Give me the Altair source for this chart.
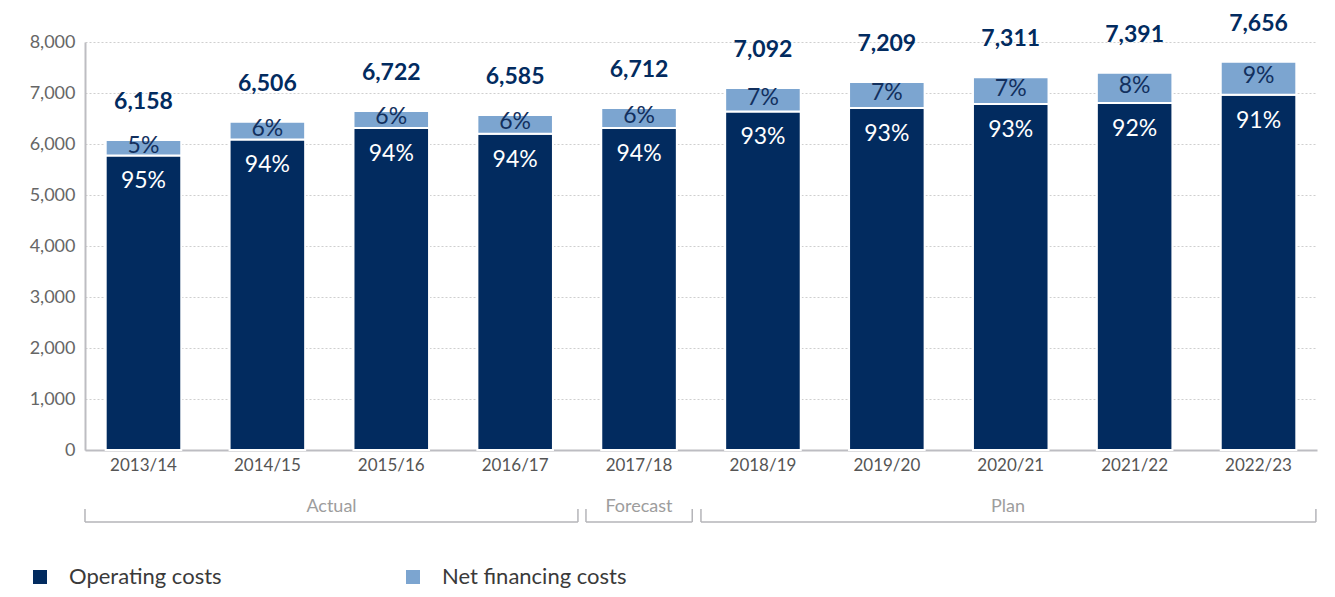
import altair as alt
import pandas as pd

# ---- data ----
periods = ["2013/14", "2014/15", "2015/16", "2016/17", "2017/18",
           "2018/19", "2019/20", "2020/21", "2021/22", "2022/23"]
operating = [5776, 6090, 6314, 6202, 6314, 6639, 6706, 6784, 6804, 6967]
financing = [302, 347, 333, 367, 392, 459, 510, 523, 594, 647]
totals = [6158, 6506, 6722, 6585, 6712, 7092, 7209, 7311, 7391, 7656]
op_pct = [95, 94, 94, 94, 94, 93, 93, 93, 92, 91]
fin_pct = [5, 6, 6, 6, 6, 7, 7, 7, 8, 9]
series = ["Operating costs", "Net financing costs"]
groups = ["Actual", "Forecast", "Plan"]
group_first = ["2013/14", "2017/18", "2018/19"]
group_last = ["2016/17", "2017/18", "2022/23"]

NAVY = "#022b5f"
LIGHT = "#7ca5d0"
FONT = "Lato"

# long table for stacked bars
rows = []
for p, o, f in zip(periods, operating, financing):
    rows.append({"period": p, "series": series[0], "value": o, "ord": 0})
    rows.append({"period": p, "series": series[1], "value": f, "ord": 1})
long_df = pd.DataFrame(rows)

wide_df = pd.DataFrame({
    "period": periods,
    "operating": operating,
    "financing": financing,
    "total": totals,
    "top": [o + f for o, f in zip(operating, financing)],
    "fin_mid": [o + f / 2 for o, f in zip(operating, financing)],
    "op_label": [f"{v}%" for v in op_pct],
    "fin_label": [f"{v}%" for v in fin_pct],
})

xscale = alt.Scale(domain=periods, paddingInner=0.39, paddingOuter=0.167)
yscale = alt.Scale(domain=[0, 8000], nice=False)

bars = alt.Chart(long_df).mark_bar(stroke="white", strokeWidth=2).encode(
    x=alt.X("period:N", scale=xscale, title=None),
    y=alt.Y("value:Q", stack="zero", scale=yscale, title=None,
            axis=alt.Axis(values=list(range(0, 8001, 1000)), format=",d")),
    color=alt.Color(
        "series:N",
        scale=alt.Scale(domain=series, range=[NAVY, LIGHT]),
        legend=alt.Legend(
            title=None, orient="none", direction="horizontal",
            legendX=-56, legendY=524,
            symbolType="square", symbolSize=196, symbolStrokeWidth=0,
            labelFontSize=22, labelColor="#3a3a3a", labelFont=FONT,
            labelOffset=18, columnPadding=180, labelLimit=400,
        ),
    ),
    order=alt.Order("ord:Q"),
)

text_base = alt.Chart(wide_df)
total_text = text_base.mark_text(
    dy=-38, fontSize=23, fontWeight="bold", color=NAVY, font=FONT, baseline="middle"
).encode(
    x=alt.X("period:N", title=None),
    y=alt.Y("top:Q", title=None),
    text=alt.Text("total:Q", format=",d"),
)
fin_text = text_base.mark_text(
    dy=-2, fontSize=23, color="#12305e", font=FONT, baseline="middle"
).encode(
    x=alt.X("period:N", title=None),
    y=alt.Y("fin_mid:Q", title=None),
    text="fin_label:N",
)
op_text = text_base.mark_text(
    dy=26, fontSize=23, color="white", font=FONT, baseline="middle"
).encode(
    x=alt.X("period:N", title=None),
    y=alt.Y("operating:Q", title=None),
    text="op_label:N",
)

# group brackets below the axis: (left offset, right offset, label offset)
bracket_style = {
    "Actual": (-20.7, 25.0, 225.8),
    "Forecast": (-15.3, 15.4, 37.7),
    "Plan": (-24.2, 19.6, 282.8),
}
BR_COLOR = "#b5b5b9"
LINE_Y = 480
TICK_TOP = 467
layers = [bars, total_text, fin_text, op_text]
for g, first, last in zip(groups, group_first, group_last):
    lo, ro, to = bracket_style[g]
    gdf = pd.DataFrame({"group": [g], "first": [first], "last": [last]})
    gc = alt.Chart(gdf)
    layers.append(gc.mark_rule(color=BR_COLOR, strokeWidth=1.5, xOffset=lo, x2Offset=ro).encode(
        x=alt.X("first:N", bandPosition=0, title=None),
        x2=alt.X2("last:N", bandPosition=1),
        y=alt.value(LINE_Y),
    ))
    layers.append(gc.mark_rule(color=BR_COLOR, strokeWidth=1.5, xOffset=lo).encode(
        x=alt.X("first:N", bandPosition=0, title=None),
        y=alt.value(TICK_TOP), y2=alt.value(LINE_Y),
    ))
    layers.append(gc.mark_rule(color=BR_COLOR, strokeWidth=1.5, xOffset=ro).encode(
        x=alt.X("last:N", bandPosition=1, title=None),
        y=alt.value(TICK_TOP), y2=alt.value(LINE_Y),
    ))
    layers.append(gc.mark_text(fontSize=18, color="#9d9d9d", font=FONT,
                               baseline="middle", xOffset=to).encode(
        x=alt.X("first:N", bandPosition=0, title=None),
        y=alt.value(465),
        text="group:N",
    ))

chart = alt.layer(*layers).properties(
    width=1232, height=408,
    padding={"left": 77, "top": 34, "right": 8, "bottom": 139},
    autosize=alt.AutoSizeParams(type="none"),
).configure_view(stroke=None).configure_axisX(
    labelAngle=0, labelFontSize=17, labelColor="#555555", labelFont=FONT,
    labelPadding=7, ticks=False, domainColor="#bdbdc2", domainWidth=2, grid=False,
).configure_axisY(
    labelFontSize=18, labelColor="#666666", labelFont=FONT, labelPadding=10,
    ticks=False, domainColor="#bdbdc2", domainWidth=2,
    grid=True, gridColor="#cfcfcf", gridDash=[2, 2], gridWidth=1,
)

chart.save("out.html", embed_options={"renderer": "svg", "actions": False})
